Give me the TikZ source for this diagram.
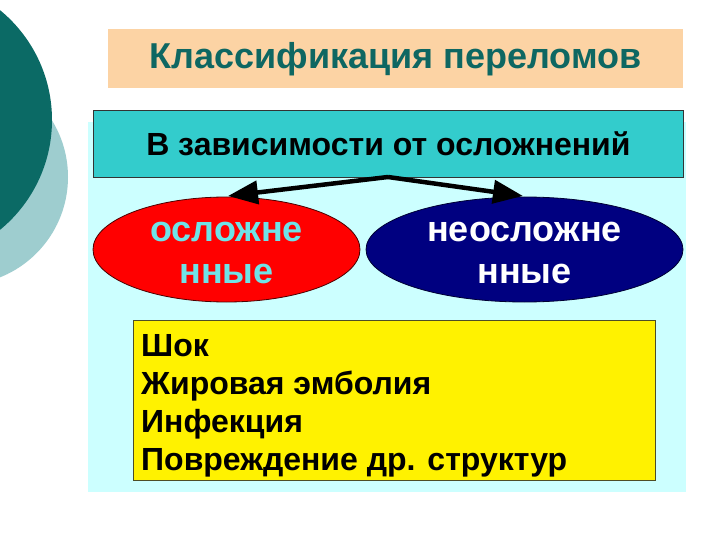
\documentclass[tikz,border=0pt]{standalone}
\usepackage{fontspec}
\setmainfont{Liberation Sans}
\usetikzlibrary{shapes.geometric,arrows.meta}
\definecolor{darkteal}{HTML}{0B6A65}
\definecolor{lightteal}{HTML}{9ECDCF}
\definecolor{peach}{HTML}{FCD3A4}
\definecolor{titleteal}{HTML}{0E6762}
\definecolor{headteal}{HTML}{33CCCC}
\definecolor{bgcyan}{HTML}{CCFFFF}
\definecolor{navy}{HTML}{000080}
\definecolor{lightcyantext}{HTML}{6FE3E8}
\definecolor{olivedark}{HTML}{4D4D26}
\newcommand{\lowerline}[1]{\raisebox{-3pt}[\height][\depth]{#1}}
\tikzset{
  ovalbox/.style={ellipse, draw=black!70!red, line width=0.8pt, inner sep=0pt, align=center, font=\fontsize{36}{42}\selectfont\bfseries},
  bigarrow/.style={line width=4.5pt, line join=round, -{Triangle[length=30pt,width=23pt]}},
}
\begin{document}
\begin{tikzpicture}[x=1pt,y=-1pt]
\useasboundingbox (0,0) rectangle (720,540);
\fill[white] (0,0) rectangle (720,540);
% decorative circles
\fill[lightteal] (-40,177) circle (108);
\fill[darkteal] (-90,120) circle (142);
% title
\node[fill=peach, minimum width=575, minimum height=59, inner sep=0pt, anchor=north west,
      text=titleteal, font=\fontsize{36}{40}\selectfont\bfseries] (title) at (108,29) {Классификация переломов};
% background
\fill[bgcyan] (88,122) rectangle (686,492);
% header
\node[fill=headteal, draw=black!80, line width=0.8pt, minimum width=590, minimum height=67, inner sep=0pt,
      anchor=north west, font=\fontsize{32}{36}\selectfont\bfseries] (head) at (93,110) {В зависимости от осложнений};
% ellipses
\node[ovalbox, fill=red, text=lightcyantext, minimum width=267, minimum height=105] (comp) at (226.5,249.5) {\lowerline{осложне}\\\lowerline{нные}};
\node[ovalbox, fill=navy, draw=black!80!blue, text=white, minimum width=317, minimum height=105] (uncomp) at (524.5,249.5) {\lowerline{неосложне}\\\lowerline{нные}};
% arrows
\coordinate (apex) at (388,177);
\coordinate (lt) at (228,196);
\coordinate (rt) at (523,196);
\draw[bigarrow] (apex) -- (lt);
\draw[bigarrow] (apex) -- (rt);
% yellow box
\node[fill=yellow, draw=olivedark, line width=0.8pt, minimum width=522, minimum height=160, inner sep=0pt,
      anchor=north west] (list) at (133,320) {};
\node[anchor=north west, align=left, inner sep=0pt, font=\fontsize{32}{38}\selectfont\bfseries] (listtext) at (141,334)
  {Шок\\Жировая эмболия\\Инфекция\\Повреждение др. структур};
\end{tikzpicture}
\end{document}
